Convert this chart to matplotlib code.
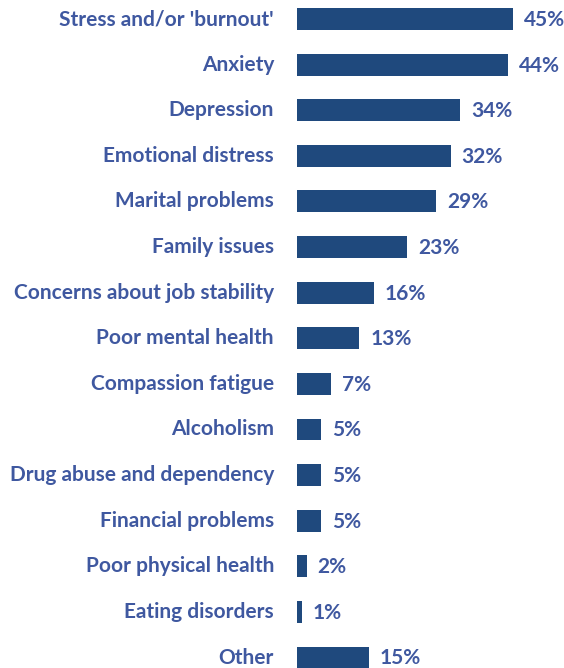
import matplotlib
matplotlib.use("Agg")
import matplotlib.pyplot as plt
from matplotlib.transforms import offset_copy

categories = [
    "Stress and/or 'burnout'", "Anxiety", "Depression", "Emotional distress",
    "Marital problems", "Family issues", "Concerns about job stability",
    "Poor mental health", "Compassion fatigue", "Alcoholism",
    "Drug abuse and dependency", "Financial problems", "Poor physical health",
    "Eating disorders", "Other",
]
values = [45, 44, 34, 32, 29, 23, 16, 13, 7, 5, 5, 5, 2, 1, 15]

bar_color = "#1F497D"
text_color = "#3F58A0"
font = ["Lato", "DejaVu Sans"]
fs = 15

fig = plt.figure(figsize=(5.64, 6.68), dpi=100)
ax = fig.add_axes([297 / 564, 0, 1 - 297 / 564, 1])

y = list(range(len(categories)))
ax.barh(y, values, height=0.48, color=bar_color)
ax.set_xlim(0, 55.6)
ax.set_ylim(14.23, -0.417)

right_of = offset_copy(ax.transData, fig=fig, x=11, y=0, units="dots")
left_of = offset_copy(ax.transData, fig=fig, x=-23, y=0, units="dots")

for yi, v, name in zip(y, values, categories):
    ax.text(v, yi + 0.02, f"{v}%", va="center", ha="left", transform=right_of,
            color=text_color, fontsize=fs, fontweight="bold", family=font)
    ax.text(0, yi, name, va="center", ha="right", transform=left_of,
            color=text_color, fontsize=fs, fontweight="bold", family=font)

ax.axis("off")
fig.savefig("out.png", dpi=100)
